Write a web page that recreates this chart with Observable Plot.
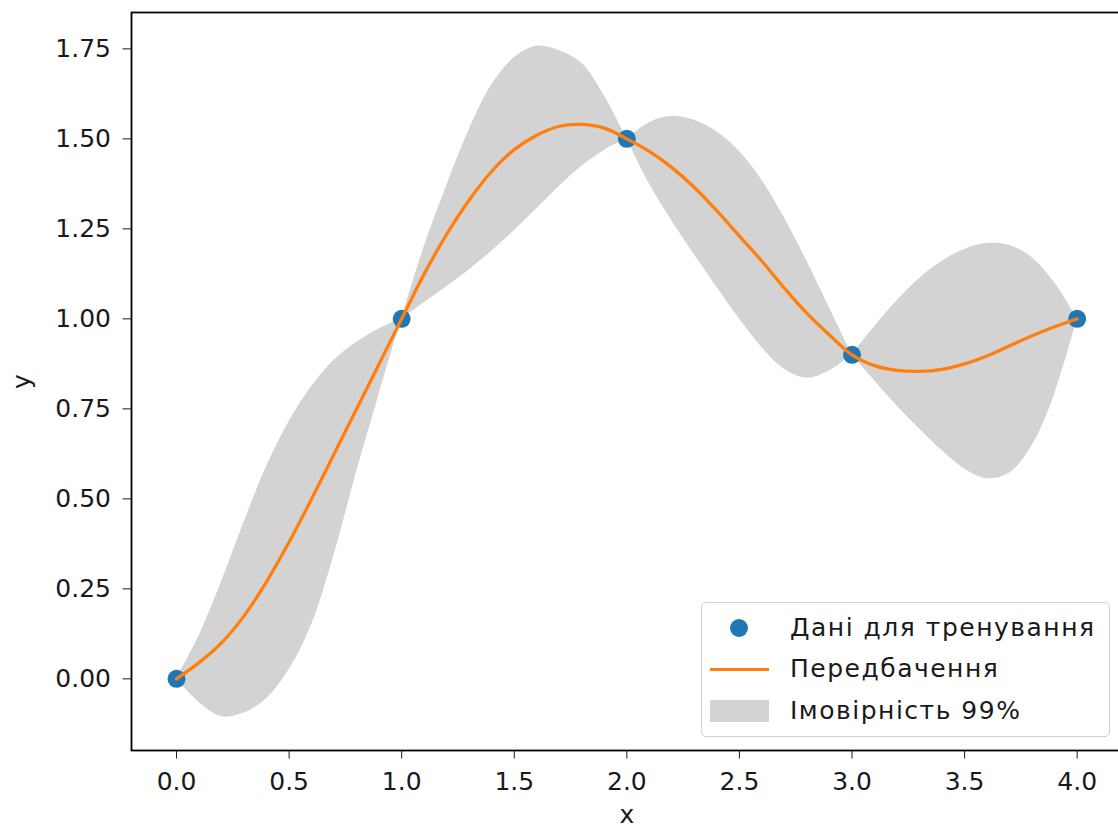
<!DOCTYPE html>
<html>
<head>
<meta charset="utf-8">
<script src="https://cdn.jsdelivr.net/npm/d3@7"></script>
<script src="https://cdn.jsdelivr.net/npm/@observablehq/plot@0.6"></script>
<style>
  html, body { margin: 0; padding: 0; background: #fff; overflow: hidden; }
  #wrap { position: relative; width: 1118px; height: 827px; overflow: hidden; font-family: "DejaVu Sans", sans-serif; }
  #wrap svg { position: absolute; left: 0; top: 0; max-width: none !important; }
  .legend { position: absolute; left: 701px; top: 602px; width: 409px; height: 135px; box-sizing: border-box;
            border: 1.5px solid #d0d0d0; border-radius: 5px; background: rgba(255,255,255,0.85);
            font-size: 25px; color: #1a1a1a; letter-spacing: 1.5px; }
  .row { position: absolute; left: 0; height: 40px; width: 100%; }
  .row .lbl { position: absolute; left: 88px; top: 50%; transform: translateY(-52%); white-space: nowrap; }
  .sym { position: absolute; }
</style>
</head>
<body>
<div id="wrap"></div>
<script>
// Training data
const trainX = [0, 1, 2, 3, 4];
const trainY = [0, 1, 1.5, 0.9, 1];

// Prediction grid
const gridX = [0.0,0.1,0.2,0.3,0.4,0.5,0.6,0.7,0.8,0.9,1.0,
               1.1,1.2,1.3,1.4,1.5,1.6,1.7,1.8,1.9,2.0,
               2.1,2.2,2.3,2.4,2.5,2.6,2.7,2.8,2.9,3.0,
               3.1,3.2,3.3,3.4,3.5,3.6,3.7,3.8,3.9,4.0];
const meanY = [0, 0.045, 0.10, 0.175, 0.27, 0.38, 0.50, 0.625, 0.75, 0.875, 1.00,
               1.125, 1.235, 1.33, 1.41, 1.47, 1.51, 1.535, 1.54, 1.53, 1.50,
               1.465, 1.42, 1.365, 1.30, 1.23, 1.16, 1.085, 1.015, 0.955, 0.90,
               0.87, 0.857, 0.854, 0.86, 0.875, 0.897, 0.925, 0.953, 0.978, 1.00];
const lowerY = [0, -0.065, -0.105, -0.095, -0.055, 0.025, 0.15, 0.345, 0.575, 0.79, 1.00,
                1.045, 1.089, 1.136, 1.188, 1.245, 1.306, 1.368, 1.424, 1.468, 1.50,
                1.375, 1.272, 1.178, 1.088, 1.00, 0.92, 0.86, 0.835, 0.855, 0.90,
                0.828, 0.758, 0.694, 0.634, 0.583, 0.556, 0.572, 0.648, 0.79, 1.00];
const upperY = [0, 0.12, 0.27, 0.435, 0.59, 0.715, 0.812, 0.885, 0.935, 0.972, 1.00,
                1.20, 1.37, 1.525, 1.65, 1.725, 1.757, 1.745, 1.71, 1.62, 1.50,
                1.545, 1.563, 1.552, 1.52, 1.465, 1.385, 1.28, 1.16, 1.03, 0.90,
                0.978, 1.05, 1.112, 1.16, 1.193, 1.209, 1.204, 1.17, 1.10, 1.00];

// Axis ticks
const xTicks = [0, 0.5, 1, 1.5, 2, 2.5, 3, 3.5, 4];
const yTicks = [0, 0.25, 0.5, 0.75, 1, 1.25, 1.5, 1.75];

// Labels
const legendLabels = ["Дані для тренування", "Передбачення", "Імовірність 99%"];
const xLabel = "x";
const yLabel = "y";

const train = trainX.map((x, i) => ({x, y: trainY[i]}));
const pred = gridX.map((x, i) => ({x, m: meanY[i], lo: lowerY[i], hi: upperY[i]}));
// band split into lobes between consecutive training points (the band pinches at each one)
const bandRows = [];
for (let k = 0; k < trainX.length - 1; k++) {
  pred.forEach(d => { if (d.x >= trainX[k] - 1e-9 && d.x <= trainX[k + 1] + 1e-9) bandRows.push({...d, lobe: k}); });
}

const BLUE = "#1f77b4", ORANGE = "#ff7f0e", GRAY = "#d3d3d3";

const chart = Plot.plot({
  width: 1125, height: 827,
  marginLeft: 131, marginRight: 3.3, marginTop: 12, marginBottom: 77,
  style: {fontFamily: "DejaVu Sans", fontSize: "25px", color: "#1a1a1a", background: "transparent", overflow: "visible", maxWidth: "none"},
  x: {domain: [-0.2, 4.2]},
  y: {domain: [-0.199, 1.851]},
  marks: [
    Plot.areaY(bandRows, {x: "x", y1: "lo", y2: "hi", z: "lobe", fill: GRAY, curve: "catmull-rom"}),
    Plot.dot(train, {x: "x", y: "y", r: 9, fill: BLUE}),
    Plot.line(pred, {x: "x", y: "m", stroke: ORANGE, strokeWidth: 3.3, curve: "catmull-rom"}),
    Plot.axisX({ticks: xTicks, tickFormat: d3.format(".1f"), tickSize: 8.5, tickPadding: 13, label: null, fontSize: 25}),
    Plot.axisY({ticks: yTicks, tickFormat: d3.format(".2f"), tickSize: 8.5, tickPadding: 12, label: null, fontSize: 25}),
    Plot.frame({stroke: "#000", strokeWidth: 1.8}),
    Plot.text([xLabel], {frameAnchor: "bottom", lineAnchor: "bottom", textAnchor: "middle", dy: 72, fontSize: 25}),
    Plot.text([yLabel], {frameAnchor: "left", lineAnchor: "middle", textAnchor: "middle", dx: -110, rotate: -90, fontSize: 25})
  ]
});

const wrap = document.getElementById("wrap");
wrap.appendChild(chart);

// Legend
const legend = document.createElement("div");
legend.className = "legend";
const rowTops = [5, 46, 88];
legendLabels.forEach((lab, i) => {
  const row = document.createElement("div");
  row.className = "row";
  row.style.top = rowTops[i] + "px";
  let sym;
  if (i === 0) {
    sym = `<div class="sym" style="left:28px;top:11px;width:18px;height:18px;border-radius:50%;background:${BLUE}"></div>`;
  } else if (i === 1) {
    sym = `<div class="sym" style="left:8px;top:18.5px;width:59px;height:3.3px;background:${ORANGE}"></div>`;
  } else {
    sym = `<div class="sym" style="left:8px;top:9px;width:59px;height:22px;background:${GRAY}"></div>`;
  }
  row.innerHTML = sym + `<span class="lbl">${lab}</span>`;
  legend.appendChild(row);
});
wrap.appendChild(legend);
</script>
</body>
</html>
